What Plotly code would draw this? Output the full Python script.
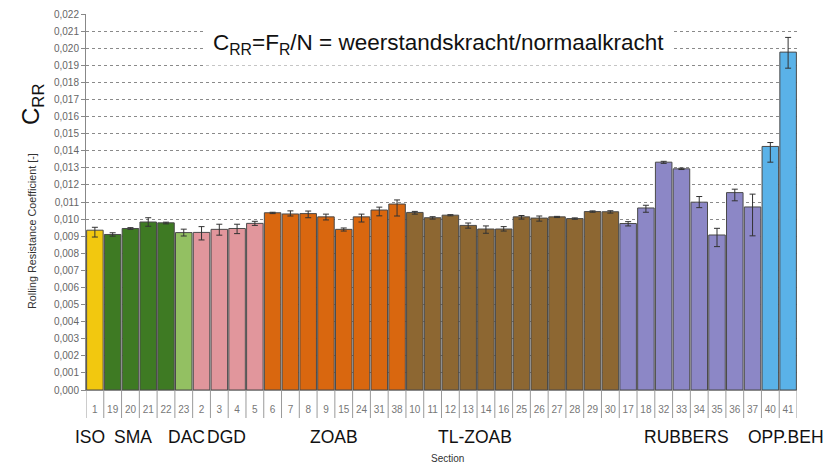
import plotly.graph_objects as go

# ---- data ----
sections = ["1", "19", "20", "21", "22", "23", "2", "3", "4", "5",
            "6", "7", "8", "9", "15", "24", "31", "38",
            "10", "11", "12", "13", "14", "16", "25", "26", "27", "28", "29", "30",
            "17", "18", "32", "33", "34", "35", "36", "37",
            "40", "41"]
crr = [0.00935, 0.00910, 0.00945, 0.00983, 0.00978, 0.00921, 0.00922, 0.00940, 0.00945, 0.00975,
       0.01037, 0.01030, 0.01032, 0.01013, 0.00940, 0.01013, 0.01053, 0.01088,
       0.01039, 0.01008, 0.01023, 0.00963, 0.00942, 0.00942, 0.01013, 0.01006, 0.01013, 0.01003, 0.01044, 0.01043,
       0.00974, 0.01065, 0.01333, 0.01294, 0.01099, 0.00907, 0.01155, 0.01071,
       0.01425, 0.01977]
err_plus = [0.00017, 0.00010, 0.00005, 0.00025, 0.00004, 0.00020, 0.00034, 0.00030, 0.00025, 0.00012,
            0.00003, 0.00018, 0.00015, 0.00016, 0.00008, 0.00016, 0.00017, 0.00024,
            0.00006, 0.00006, 0.00003, 0.00014, 0.00018, 0.00014, 0.00008, 0.00012, 0.00003, 0.00004, 0.00004, 0.00006,
            0.00011, 0.00016, 0.00005, 0.00004, 0.00033, 0.00039, 0.00020, 0.00075,
            0.00023, 0.00086]
err_minus = [0.00040, 0.00010, 0.00005, 0.00025, 0.00006, 0.00020, 0.00044, 0.00034, 0.00030, 0.00012,
             0.00005, 0.00012, 0.00024, 0.00018, 0.00010, 0.00030, 0.00034, 0.00070,
             0.00010, 0.00008, 0.00004, 0.00016, 0.00025, 0.00012, 0.00013, 0.00018, 0.00004, 0.00004, 0.00004, 0.00008,
             0.00014, 0.00025, 0.00007, 0.00004, 0.00032, 0.00068, 0.00048, 0.00169,
             0.00092, 0.00094]

# colour groups (count of bars per colour)
color_groups = [(1, "#F2C80F"), (4, "#3E7A23"), (1, "#93C062"), (4, "#E1969C"),
                (8, "#D9670F"), (12, "#8D6732"), (8, "#8C87C6"), (2, "#5AB2E8")]

# group labels: (text, category position)
group_labels = [("ISO", -0.25), ("SMA", 2.17), ("DAC", 5.15), ("DGD", 7.4), ("ZOAB", 13.45),
                ("TL-ZOAB", 21.38), ("RUBBERS", 33.26), ("OPP.BEH", 38.9)]

y_ticks = [i / 1000 for i in range(0, 23)]

colors = []
for n, c in color_groups:
    colors += [c] * n

fig = go.Figure()
fig.add_trace(go.Bar(
    x=sections, y=crr,
    marker=dict(color=colors, line=dict(color="#4a4a4a", width=1)),
    error_y=dict(type="data", symmetric=False, array=err_plus, arrayminus=err_minus,
                 color="#333333", thickness=1, width=3),
    showlegend=False,
))

OFF = 8  # page body margin
W, H = 833 - OFF, 467 - OFF
ml, mr, mt, mb = 86 - OFF, 833 - 797, 14 - OFF, 467 - 390
plot_h = H - mt - mb
plot_w = W - ml - mr


def px_x(px):
    return (px - OFF - ml) / plot_w


def px_y(py):
    return (H - mb - (py - OFF)) / plot_h


shapes = []
for i in range(len(sections) + 1):
    shapes.append(dict(type="line", xref="x", yref="paper",
                       x0=i - 0.5, x1=i - 0.5, y0=0, y1=px_y(418),
                       line=dict(color="#9a9a9a", width=1)))

annotations = []
for txt, pos in group_labels:
    annotations.append(dict(x=pos, y=px_y(437), xref="x", yref="paper",
                            text=txt, showarrow=False,
                            font=dict(family="Liberation Sans, Arial", size=17.5, color="#111111"),
                            xanchor="center", yanchor="middle"))
annotations.append(dict(x=px_x(447), y=px_y(458), xref="paper", yref="paper",
                        text="Section", showarrow=False,
                        font=dict(family="Liberation Sans, Arial", size=10, color="#333333"),
                        xanchor="center", yanchor="middle"))
annotations.append(dict(x=px_x(438), y=px_y(44), xref="paper", yref="paper",
                        text="C<sub>RR</sub>=F<sub>R</sub>/N = weerstandskracht/normaalkracht",
                        showarrow=False, bgcolor="white", borderpad=7,
                        font=dict(family="Liberation Sans, Arial", size=22.5, color="#111111"),
                        xanchor="center", yanchor="middle"))
annotations.append(dict(x=px_x(32), y=px_y(104), xref="paper", yref="paper",
                        text="C<sub>RR</sub>", showarrow=False, textangle=-90,
                        font=dict(family="Liberation Sans, Arial", size=24, color="#111111"),
                        xanchor="center", yanchor="middle"))
annotations.append(dict(x=px_x(32), y=px_y(231), xref="paper", yref="paper",
                        text="Rolling Resistance Coefficient [-]", showarrow=False, textangle=-90,
                        font=dict(family="Liberation Sans, Arial", size=10.8, color="#333333"),
                        xanchor="center", yanchor="middle"))
fig.update_layout(annotations=annotations, shapes=shapes)

fig.update_layout(
    width=W, height=H,
    margin=dict(l=ml, r=mr, t=mt, b=mb, autoexpand=False),
    paper_bgcolor="white", plot_bgcolor="white",
    bargap=0.07,
    separators=",.",
    font=dict(family="Liberation Sans, Arial"),
    xaxis=dict(type="category", range=[-0.5, len(sections) - 0.5], autorange=False,
               showline=True, linecolor="#888888", linewidth=1,
               ticks="outside", ticklen=10, tickcolor="rgba(0,0,0,0)",
               tickfont=dict(size=10, color="#777777"), showgrid=False, automargin=False),
    yaxis=dict(range=[0, 0.022], tickvals=y_ticks, tickformat=".3f",
               showline=True, linecolor="#888888", linewidth=1,
               ticks="outside", ticklen=4, tickcolor="#888888",
               tickfont=dict(size=10, color="#666666"),
               showgrid=True, gridcolor="#8a8a8a", griddash="dot", gridwidth=1,
               zeroline=False, automargin=False),
)

fig.write_html("out.html")
